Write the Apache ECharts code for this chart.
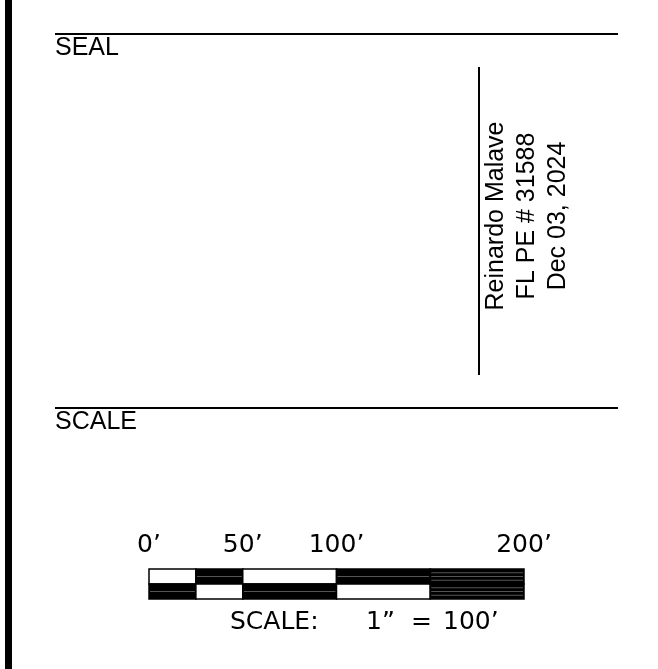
<!DOCTYPE html>
<html>
<head>
<meta charset="utf-8">
<script src="https://cdn.jsdelivr.net/npm/echarts@6/dist/echarts.min.js"></script>
<style>
html,body{margin:0;padding:0;background:#fff;}
#chart{width:658px;height:669px;}
</style>
</head>
<body>
<div id="chart"></div>
<script>
// Scale bar data (feet)
const segStart = [0, 25, 50, 100, 150];
const segEnd = [25, 50, 100, 150, 200];
const topRowFilled = [0, 1, 0, 1, 1];
const bottomRowFilled = [1, 0, 1, 0, 1];
const tickValues = [0, 50, 100, 200];
const sealLines = ['Reinardo Malave', 'FL PE # 31588', 'Dec 03, 2024'];
const sectionTitles = ['SEAL', 'SCALE'];
const scaleCaption = ['SCALE:', '1\u201D', '=', '100\u2019'];

const cells = [];
segStart.forEach((s, i) => {
  cells.push([s, segEnd[i], 1, topRowFilled[i], i]);
  cells.push([s, segEnd[i], 0, bottomRowFilled[i], i]);
});

const cadFont = 'DejaVu Sans';
const cadStyle = { fontFamily: cadFont, fontWeight: 'normal', fontSize: 25, fill: '#000', textVerticalAlign: 'middle' };
const chart = echarts.init(document.getElementById('chart'));
chart.setOption({
  backgroundColor: '#ffffff',
  animation: false,
  grid: { left: 149, top: 569, width: 375, height: 30, containLabel: false },
  xAxis: {
    type: 'value', min: 0, max: 200, position: 'top',
    axisLine: { show: false }, axisTick: { show: false }, splitLine: { show: false },
    axisLabel: {
      customValues: tickValues,
      formatter: v => v + '\u2019',
      fontFamily: cadFont, fontWeight: 'normal', fontSize: 25, color: '#000', margin: 11
    }
  },
  yAxis: {
    type: 'value', min: 0, max: 2, show: false
  },
  series: [{
    type: 'custom',
    data: cells,
    renderItem: function (params, api) {
      const p0 = api.coord([api.value(0), api.value(2) + 1]);
      const p1 = api.coord([api.value(1), api.value(2)]);
      const filled = api.value(3) === 1;
      const x = p0[0], y = p0[1], w = p1[0] - p0[0], h = p1[1] - p0[1];
      const children = [{
        type: 'rect',
        shape: { x: x, y: y, width: w, height: h },
        style: { fill: filled ? '#000' : '#fff', stroke: '#000', lineWidth: 1.5 }
      }];
      if (filled) {
        const n = api.value(4) === 4 ? 3 : 1;
        for (let k = 1; k <= n; k++) {
          const yy = y + h * k / (n + 1);
          children.push({
            type: 'line',
            shape: { x1: x + 1, y1: yy, x2: x + w - 1, y2: yy },
            style: { stroke: '#555', lineWidth: 1 }
          });
        }
      }
      return { type: 'group', children: children };
    }
  }],
  graphic: [
    { type: 'rect', shape: { x: 5, y: 0, width: 7, height: 669 }, style: { fill: '#000' } },
    { type: 'line', shape: { x1: 55, y1: 34, x2: 618, y2: 34 }, style: { stroke: '#000', lineWidth: 2 } },
    { type: 'text', x: 55, y: 36, style: { text: sectionTitles[0], fontFamily: 'Liberation Sans', fontSize: 25, fill: '#000', textVerticalAlign: 'top' } },
    { type: 'line', shape: { x1: 55, y1: 408, x2: 618, y2: 408 }, style: { stroke: '#000', lineWidth: 2 } },
    { type: 'text', x: 55, y: 410, style: { text: sectionTitles[1], fontFamily: 'Liberation Sans', fontSize: 25, fill: '#000', textVerticalAlign: 'top' } },
    { type: 'line', shape: { x1: 479, y1: 67, x2: 479, y2: 375 }, style: { stroke: '#000', lineWidth: 2 } },
    { type: 'text', x: 527, y: 216, rotation: Math.PI / 2,
      style: { text: sealLines.join('\n'), fontFamily: 'Liberation Sans', fontSize: 25, lineHeight: 31,
               fill: '#000', textAlign: 'center', textVerticalAlign: 'middle', align: 'center', verticalAlign: 'middle' } },
    { type: 'text', x: 230, y: 622, style: Object.assign({ text: scaleCaption[0] }, cadStyle) },
    { type: 'text', x: 366, y: 622, style: Object.assign({ text: scaleCaption[1] }, cadStyle) },
    { type: 'text', x: 411, y: 622, style: Object.assign({ text: scaleCaption[2] }, cadStyle) },
    { type: 'text', x: 443, y: 622, style: Object.assign({ text: scaleCaption[3] }, cadStyle) }
  ]
});
</script>
</body>
</html>
